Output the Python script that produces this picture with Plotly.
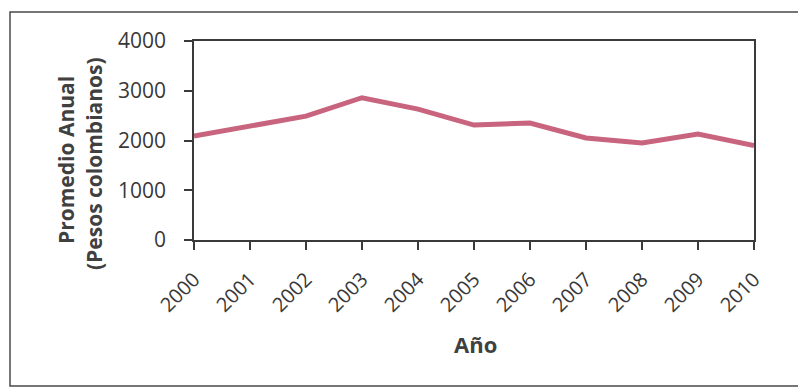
import plotly.graph_objects as go

# Average annual price, Colombian pesos
years = [2000, 2001, 2002, 2003, 2004, 2005, 2006, 2007, 2008, 2009, 2010]
promedio = [2090, 2290, 2490, 2860, 2630, 2310, 2350, 2050, 1950, 2130, 1900]
year_labels = [str(y) for y in years]
y_ticks = [0, 1000, 2000, 3000, 4000]

W, H = 798, 388
L, R, T, B = 194, 44, 41, 148
pw, ph = W - L - R, H - T - B

font_family = "Open Sans"
axis_color = "#3a3a3a"
text_color = "#383838"

fig = go.Figure()
fig.add_trace(go.Scatter(
    x=years, y=promedio, mode="lines",
    line=dict(color="#C8647E", width=5),
    showlegend=False, hoverinfo="x+y",
))

fig.update_layout(
    width=W, height=H,
    margin=dict(l=L, r=R, t=T, b=B, pad=0),
    paper_bgcolor="white", plot_bgcolor="white",
    font=dict(family=font_family, color=text_color),
    xaxis=dict(
        range=[2000, 2010], tickmode="array", tickvals=years, ticktext=year_labels,
        tickangle=-45, ticks="outside", ticklen=8, tickwidth=1.5, tickcolor=axis_color,
        ticklabelstandoff=10,
        showline=True, linecolor=axis_color, linewidth=1.5, mirror=True,
        showgrid=False, zeroline=False,
        tickfont=dict(size=20, color=text_color),
    ),
    yaxis=dict(
        range=[0, 4000], tickmode="array", tickvals=y_ticks,
        ticks="outside", ticklen=8, tickwidth=1.5, tickcolor=axis_color,
        ticklabelstandoff=14,
        showline=True, linecolor=axis_color, linewidth=1.5, mirror=True,
        showgrid=False, zeroline=False,
        tickfont=dict(size=21, color=text_color),
    ),
)

def px_x(x):
    return (x - L) / pw

def px_y(y):
    return (H - B - y) / ph

# Y-axis title, two lines
fig.add_annotation(
    text="<b>Promedio Anual</b>",
    xref="paper", yref="paper", x=px_x(66), y=px_y(160),
    xanchor="center", yanchor="middle", textangle=-90, showarrow=False,
    font=dict(family=font_family, size=21, color="#404040"),
)
fig.add_annotation(
    text="<b>(Pesos colombianos)</b>",
    xref="paper", yref="paper", x=px_x(94), y=px_y(164),
    xanchor="center", yanchor="middle", textangle=-90, showarrow=False,
    font=dict(family=font_family, size=21, color="#404040"),
)
# X-axis title
fig.add_annotation(
    text="<b>Año</b>",
    xref="paper", yref="paper", x=px_x(475), y=px_y(344),
    xanchor="center", yanchor="middle", showarrow=False,
    font=dict(family=font_family, size=22, color="#404040"),
)

# Chart frame
fig.add_shape(
    type="rect", xref="paper", yref="paper",
    x0=px_x(10), x1=px_x(805), y0=px_y(386), y1=px_y(12),
    line=dict(color="#4a4a4a", width=1.5), fillcolor="rgba(0,0,0,0)",
    layer="below",
)

fig.write_html("out.html")
